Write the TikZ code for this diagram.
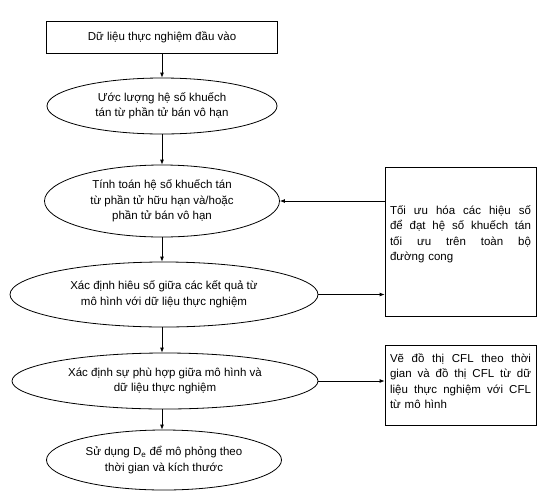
\documentclass[tikz,border=0pt]{standalone}
\usepackage{fontspec}
\setmainfont{Liberation Sans}
\usetikzlibrary{shapes.geometric,arrows.meta}
\newcommand{\jline}[1]{\leavevmode\hbox to 141pt{#1}}
\begin{document}
\begin{tikzpicture}[x=1pt,y=1pt,
  every node/.style={font=\fontsize{11.5}{15.5}\selectfont, inner sep=0pt},
  oval/.style={draw, ellipse, line width=0.8pt, align=center},
  boxnode/.style={draw, rectangle, line width=0.8pt},
  txt/.style={align=left, text width=141pt},
  arr/.style={line width=0.8pt, -{Latex[length=5pt,width=4pt]}}]
\useasboundingbox (0,0) rectangle (543,-501);
\node[boxnode, minimum width=231pt, minimum height=32pt] (top) at (162,-37) {Dữ liệu thực nghiệm đầu vào};
\node[oval, minimum width=230pt, minimum height=56pt] (e1) at (162,-106) {Ước lượng hệ số khuếch\\tán từ phần tử bán vô hạn};
\node[oval, minimum width=235pt, minimum height=72pt] (e2) at (162,-201) {Tính toán hệ số khuếch tán\\từ phần tử hữu hạn và/hoặc\\phần tử bán vô hạn};
\node[oval, minimum width=308pt, minimum height=65pt] (e3) at (164,-294.5) {Xác định hiêu số giữa các kết quả từ\\mô hình với dữ liệu thực nghiệm};
\node[oval, minimum width=306pt, minimum height=56pt] (e4) at (165,-381) {Xác định sự phù hợp giữa mô hình và\\dữ liệu thực nghiệm};
\node[oval, minimum width=235pt, minimum height=60pt] (e5) at (164,-460) {Sử dụng D\textsubscript{e} để mô phỏng theo\\thời gian và kích thước};
\node[boxnode, minimum width=151pt, minimum height=149pt] (b1) at (460.5,-241.5) {};
\node[txt] (t1) at (460.5,-234.5) {\jline{Tối\hfill ưu\hfill hóa\hfill các\hfill hiệu\hfill số}\\\jline{để\hfill đạt\hfill hệ\hfill số\hfill khuếch\hfill tán}\\\jline{tối\hfill ưu\hfill trên\hfill toàn\hfill bộ}\\đường cong};
\node[boxnode, minimum width=151pt, minimum height=80pt] (b2) at (460.5,-385) {};
\node[txt] (t2) at (460.5,-381) {\jline{Vẽ\hfill đồ\hfill thị\hfill CFL\hfill theo\hfill thời}\\\jline{gian\hfill và\hfill đồ\hfill thị\hfill CFL\hfill từ\hfill dữ}\\\jline{liệu\hfill thực\hfill nghiệm\hfill với\hfill CFL}\\từ mô hình};
\draw[arr] (top.south) -- (top.south |- e1.north);
\draw[arr] (e1.south) -- (e1.south |- e2.north);
\draw[arr] (e2.south) -- (e2.south |- e3.north);
\draw[arr] (e3.south -| e2.south) -- (e2.south |- e4.north);
\draw[arr] (e4.south -| e2.south) -- (e2.south |- e5.north);
\draw[arr] (b1.west |- e2.east) -- (e2.east);
\draw[arr] (e3.east) -- (b1.west |- e3.east);
\draw[arr] (e4.east) -- (b2.west |- e4.east);
\end{tikzpicture}
\end{document}
